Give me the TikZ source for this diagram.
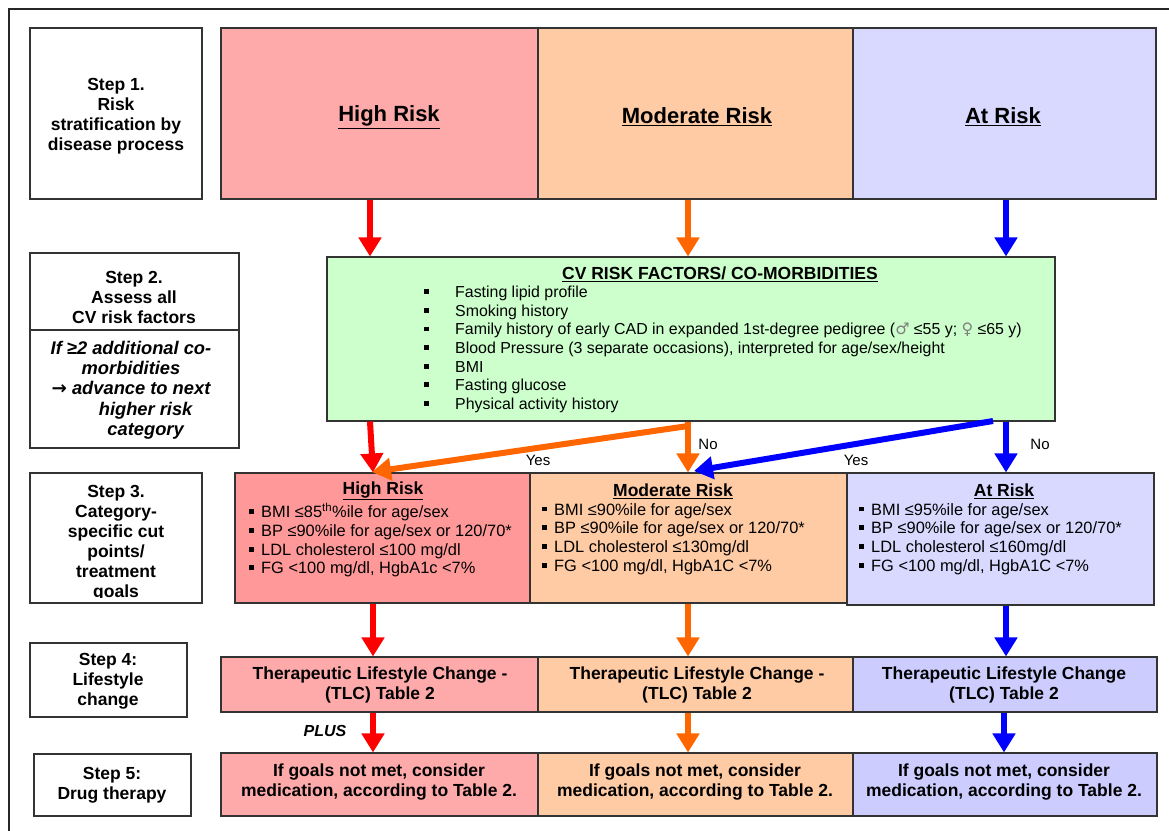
\documentclass[tikz,border=0pt]{standalone}
\usepackage{fontspec}
\setmainfont{Liberation Sans}
\newfontfamily\djv{DejaVu Sans}
\usetikzlibrary{arrows.meta,calc,fit}
\definecolor{hr}{HTML}{FFAAAA}
\definecolor{hrd}{HTML}{FF9999}
\definecolor{mr}{HTML}{FFCBA4}
\definecolor{ar}{HTML}{D9D9FF}
\definecolor{ard}{HTML}{CCCCFF}
\definecolor{gr}{HTML}{CCFFCC}
\definecolor{orng}{HTML}{FF6600}
\definecolor{bdr}{HTML}{333333}
\definecolor{blu}{HTML}{0000FF}
\definecolor{rd}{HTML}{FF0000}
\newcommand{\sqb}{\raisebox{0.22em}{\rule{0.3em}{0.3em}}}
\begin{document}
\begin{tikzpicture}[x=1pt,y=-1pt,
  box/.style={draw=bdr,line width=1.1pt,inner sep=0pt},
  steptext/.style={font=\bfseries\fontsize{17.5}{20}\selectfont,align=center},
  bigtitle/.style={font=\bfseries\fontsize{22}{26}\selectfont},
  midtitle/.style={font=\bfseries\fontsize{17.5}{20}\selectfont},
  itemtext/.style={font=\fontsize{16.4}{18.7}\selectfont,align=left,inner sep=0pt,anchor=north west},
  tlctext/.style={font=\bfseries\fontsize{17.5}{19.5}\selectfont,align=center},
  lbl/.style={font=\fontsize{15}{18}\selectfont,inner sep=0pt},
  arr/.style={line width=6pt,-{Triangle[width=22pt,length=19pt]}}]
\useasboundingbox (0,0) rectangle (1169,830);
\fill[white] (0,0) rectangle (1169,830);
% outer frame
\draw[line width=2pt,black!85] (9,850) -- (9,9) -- (1180,9);

% arrow x positions
\coordinate (rx) at (370,0);
\coordinate (ox) at (688,0);
\coordinate (bx) at (1006,0);
\coordinate (rx2) at (373,0);
\coordinate (bx2) at (1004,0);

% ---------- Step column ----------
\node[box,fit={(30,28) (202,199)}] (s1) {};
\node[steptext] (s1t) at (116,116) {Step 1.\\Risk\\stratification by\\disease process};

\node[box,fit={(30,253) (239,448)}] (s2) {};
\draw[bdr,line width=1.1pt] (s2.west |- 0,330) coordinate (s2l) -- (s2.east |- 0,330) coordinate (s2r);
\node[steptext] (s2t) at (134,297) {Step 2.\\Assess all\\CV risk factors};
\node[steptext,font=\bfseries\itshape\fontsize{18.3}{20.3}\selectfont] (s2i) at (131,390)
  {If ≥2 additional co-\\morbidities\\{\djv\bfseries →} advance to next\\\hspace*{1.6em}higher risk\\\hspace*{1.6em}category};

\node[box,fit={(30,473) (202,603)}] (s3) {};
\begin{scope}
\clip (30,473) rectangle (202,597.5);
\node[steptext] (s3t) at (116,543) {Step 3.\\Category-\\specific cut\\points/\\treatment\\goals};
\end{scope}

\node[box,fit={(30,643) (187,717)}] (s4) {};
\node[steptext] (s4t) at (108,681) {Step 4:\\Lifestyle\\change};

\node[box,fit={(34,754) (191,816)}] (s5) {};
\node[steptext] (s5t) at (112,785) {Step 5:\\Drug therapy};

% ---------- Row 1 ----------
\node[box,fill=hr,fit={(221,28) (538,199)}] (h1) {};
\node[box,fill=mr,fit={(538,28) (853,199)}] (m1) {};
\node[box,fill=ar,fit={(853,28) (1156,199)}] (a1) {};
\node[bigtitle] (h1t) at (389,117) {\underline{High Risk}};
\node[bigtitle] (m1t) at (697,117) {\underline{Moderate Risk}};
\node[bigtitle] (a1t) at (1003,117) {\underline{At Risk}};

% ---------- Green box ----------
\node[box,fill=gr,fit={(327,257) (1055,421)}] (g) {};
\node[midtitle] (gt) at (720,274) {\underline{CV RISK FACTORS/ CO-MORBIDITIES}};
\node[itemtext,font=\fontsize{15.9}{18.6}\selectfont] (gl) at (424,286) {%
\makebox[31pt][l]{\sqb}Fasting lipid profile\\
\makebox[31pt][l]{\sqb}Smoking history\\
\makebox[31pt][l]{\sqb}Family history of early CAD in expanded 1st-degree pedigree ({\djv\color{gray}♂} ≤55 y; {\djv\color{gray}♀} ≤65 y)\\
\makebox[31pt][l]{\sqb}Blood Pressure (3 separate occasions), interpreted for age/sex/height\\
\makebox[31pt][l]{\sqb}BMI\\
\makebox[31pt][l]{\sqb}Fasting glucose\\
\makebox[31pt][l]{\sqb}Physical activity history};

% ---------- Row 3 ----------
\node[box,fill=hrd,fit={(235,473) (530,603)}] (h3) {};
\node[box,fill=mr,fit={(530,473) (847,603)}] (m3) {};
\node[box,fill=ar,fit={(847,473) (1154,605)}] (a3) {};
\node[midtitle] (h3t) at (383,491) {\underline{High Risk}};
\node[midtitle] (m3t) at (673,491) {\underline{Moderate Risk}};
\node[midtitle] (a3t) at (1004,491) {\underline{At Risk}};
\node[itemtext] (h3l) at (249,503) {%
\makebox[12pt][l]{\sqb}BMI ≤85\textsuperscript{th}\%ile for age/sex\\
\makebox[12pt][l]{\sqb}BP ≤90\%ile for age/sex or 120/70*\\
\makebox[12pt][l]{\sqb}LDL cholesterol ≤100 mg/dl\\
\makebox[12pt][l]{\sqb}FG <100 mg/dl, HgbA1c <7\%};
\node[itemtext] (m3l) at (542,503) {%
\makebox[12pt][l]{\sqb}BMI ≤90\%ile for age/sex\\
\makebox[12pt][l]{\sqb}BP ≤90\%ile for age/sex or 120/70*\\
\makebox[12pt][l]{\sqb}LDL cholesterol ≤130mg/dl\\
\makebox[12pt][l]{\sqb}FG <100 mg/dl, HgbA1C <7\%};
\node[itemtext] (a3l) at (859,503) {%
\makebox[12pt][l]{\sqb}BMI ≤95\%ile for age/sex\\
\makebox[12pt][l]{\sqb}BP ≤90\%ile for age/sex or 120/70*\\
\makebox[12pt][l]{\sqb}LDL cholesterol ≤160mg/dl\\
\makebox[12pt][l]{\sqb}FG <100 mg/dl, HgbA1C <7\%};

% ---------- Row 4 ----------
\node[box,fill=hr,fit={(221,657) (538,712)}] (h4) {};
\node[box,fill=mr,fit={(538,657) (853,712)}] (m4) {};
\node[box,fill=ard,fit={(853,657) (1157,712)}] (a4) {};
\node[tlctext] (h4t) at (380,685) {Therapeutic Lifestyle Change -\\(TLC) Table 2};
\node[tlctext] (m4t) at (697,685) {Therapeutic Lifestyle Change -\\(TLC) Table 2};
\node[tlctext] (a4t) at (1004,685) {Therapeutic Lifestyle Change\\(TLC) Table 2};

% ---------- Row 5 ----------
\node[box,fill=hr,fit={(221,753) (538,816)}] (h5) {};
\node[box,fill=mr,fit={(538,753) (853,816)}] (m5) {};
\node[box,fill=ard,fit={(853,753) (1157,816)}] (a5) {};
\node[tlctext] (h5t) at (379,782) {If goals not met, consider\\medication, according to Table 2.};
\node[tlctext] (m5t) at (695,782) {If goals not met, consider\\medication, according to Table 2.};
\node[tlctext] (a5t) at (1004,782) {If goals not met, consider\\medication, according to Table 2.};

% ---------- Arrows ----------
\draw[arr,rd] (h1.south -| rx) -- (g.north -| rx);
\draw[arr,orng] (m1.south -| ox) -- (g.north -| ox);
\draw[arr,blu] (a1.south -| bx) -- (g.north -| bx);

\draw[arr,rd] (g.south -| rx) -- (h3.north -| rx2);
\draw[arr,orng] (g.south -| ox) -- (m3.north -| ox);
\draw[arr,blu] (g.south -| bx) -- (a3.north -| bx);
\coordinate (od) at (688,426);
\coordinate (bd) at (993,421);
\coordinate (ot) at (372,472);
\coordinate (bt) at (694,471);
\draw[arr,orng] (od) -- (ot);
\draw[arr,blu] (bd) -- (bt);

\node[lbl] (y1) at (538,460) {Yes};
\node[lbl] (n1) at (708,444) {No};
\node[lbl] (y2) at (856,460) {Yes};
\node[lbl] (n2) at (1040,444) {No};

\draw[arr,rd] (h3.south -| rx2) -- (h4.north -| rx2);
\draw[arr,orng] (m3.south -| ox) -- (m4.north -| ox);
\draw[arr,blu] (a3.south -| bx) -- (a4.north -| bx);

\draw[arr,rd] (h4.south -| rx2) -- (h5.north -| rx2);
\draw[arr,orng] (m4.south -| ox) -- (m5.north -| ox);
\draw[arr,blu] (a4.south -| bx2) -- (a5.north -| bx2);

\node[font=\bfseries\itshape\fontsize{16}{18}\selectfont] (plus) at (325,731) {PLUS};
\end{tikzpicture}
\end{document}
